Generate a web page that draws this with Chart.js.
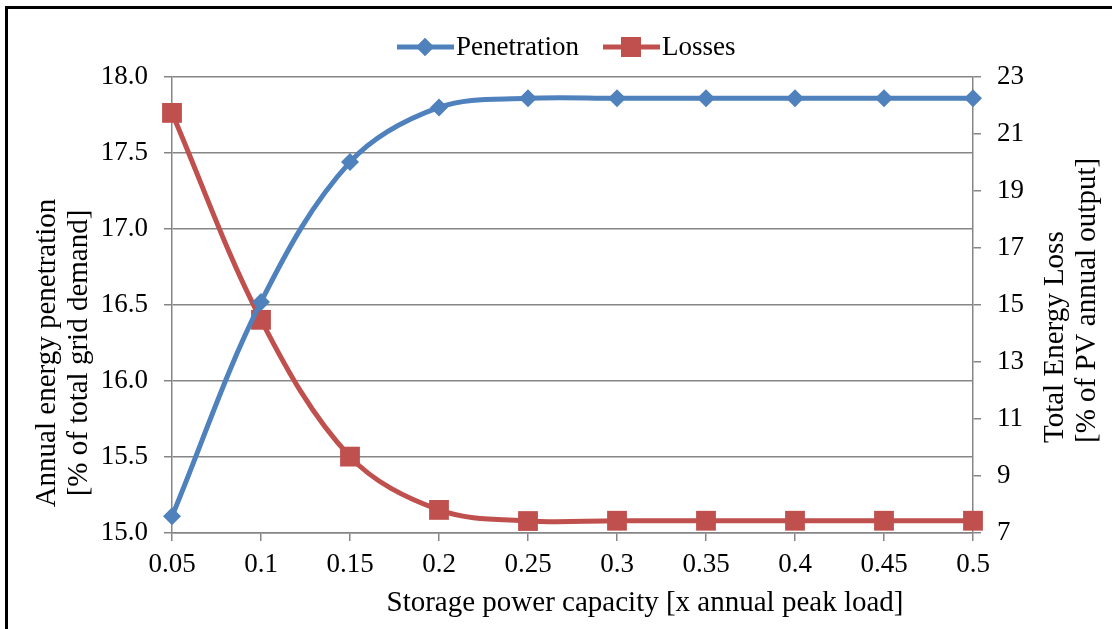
<!DOCTYPE html>
<html>
<head>
<meta charset="utf-8">
<script src="https://cdn.jsdelivr.net/npm/chart.js@4.4.1/dist/chart.umd.min.js"></script>
<style>
    html, body { margin: 0; padding: 0; background: #fff; overflow: hidden; }
    .wrap { position: relative; width: 1112px; height: 629px; }
    .frame {
        position: absolute; left: 5px; top: 6px; width: 1140px; height: 660px;
        border: 3px solid #000; box-sizing: border-box; pointer-events: none;
    }
    canvas { position: absolute; left: 0; top: 0; }
</style>
</head>
<body>
<div class="wrap">
    <canvas id="chart" width="1112" height="629"></canvas>
    <div class="frame"></div>
</div>
<script>
const xLabels = ['0.05', '0.1', '0.15', '0.2', '0.25', '0.3', '0.35', '0.4', '0.45', '0.5'];
const penetration = [15.11, 16.52, 17.44, 17.80, 17.86, 17.86, 17.86, 17.86, 17.86, 17.86];
const losses = [21.74, 14.48, 9.68, 7.81, 7.42, 7.43, 7.43, 7.43, 7.43, 7.43];

const blue = '#4F81BD';
const red = '#C0504D';
const gridGray = '#868686';
const font = '"Liberation Serif", "Times New Roman", serif';

// plot area edges in the reference
const area = { left: 172, right: 973, top: 77, bottom: 533 };

// legend and axis titles drawn by hand
const labelsPlugin = {
    id: 'labels',
    afterDraw(chart) {
        const ctx = chart.ctx;
        ctx.save();
        ctx.fillStyle = '#000';

        // legend
        ctx.font = '27px ' + font;
        ctx.textBaseline = 'middle';
        const ly = 47;
        const items = [
            { x: 397, color: blue, style: 'rectRot', r: 9, text: 'Penetration' },
            { x: 603, color: red, style: 'rect', r: 14, text: 'Losses' }
        ];
        items.forEach(it => {
            ctx.strokeStyle = it.color;
            ctx.lineWidth = 5;
            ctx.beginPath();
            ctx.moveTo(it.x, ly);
            ctx.lineTo(it.x + 57, ly);
            ctx.stroke();
            ctx.fillStyle = it.color;
            Chart.helpers.drawPoint(ctx, { pointStyle: it.style, radius: it.r, borderWidth: 0 }, it.x + 28, ly);
            ctx.fill();
            ctx.fillStyle = '#000';
            ctx.textAlign = 'left';
            ctx.fillText(it.text, it.x + 59, ly + 1);
        });

        // x title
        ctx.font = '29px ' + font;
        ctx.textAlign = 'center';
        ctx.textBaseline = 'alphabetic';
        ctx.fillText('Storage power capacity [x annual peak load]', 645, 611);

        // left title
        ctx.save();
        ctx.translate(0, 353);
        ctx.rotate(-Math.PI / 2);
        ctx.textAlign = 'center';
        ctx.fillText('Annual energy penetration', 0, 55);
        ctx.fillText('[% of total grid demand]', 0, 87);
        ctx.restore();

        // right title
        ctx.save();
        ctx.translate(0, 443);
        ctx.rotate(-Math.PI / 2);
        ctx.textAlign = 'left';
        ctx.fillText('Total Energy Loss', 0, 1063);
        ctx.fillText('[% of PV annual output]', 0, 1095);
        ctx.restore();

        ctx.restore();
    }
};

const ctx = document.getElementById('chart').getContext('2d');
window.lossChart = new Chart(ctx, {
    type: 'line',
    data: {
        labels: xLabels,
        datasets: [{
            label: 'Penetration',
            data: penetration,
            yAxisID: 'y',
            borderColor: blue,
            backgroundColor: blue,
            borderWidth: 5,
            pointStyle: 'rectRot',
            pointRadius: 9,
            pointBorderWidth: 0,
            tension: 0.35
        }, {
            label: 'Losses',
            data: losses,
            yAxisID: 'y1',
            borderColor: red,
            backgroundColor: red,
            borderWidth: 5,
            pointStyle: 'rect',
            pointRadius: 14,
            pointBorderWidth: 0,
            tension: 0.35
        }]
    },
    options: {
        responsive: false,
        animation: false,
        layout: { padding: { left: 0, right: 0, top: area.top, bottom: 0 } },
        plugins: {
            legend: { display: false },
            tooltip: { enabled: false }
        },
        scales: {
            x: {
                type: 'category',
                offset: false,
                afterFit: s => { s.height = 629 - area.bottom; },
                grid: { drawOnChartArea: false, color: gridGray, lineWidth: 1.5, tickLength: 8 },
                border: { color: gridGray, width: 1.5 },
                ticks: { color: '#000', font: { family: font, size: 27 }, padding: 8, maxRotation: 0, autoSkip: false }
            },
            y: {
                position: 'left',
                min: 15,
                max: 18,
                afterFit: s => { s.width = area.left; },
                grid: { color: gridGray, lineWidth: 1.5, tickLength: 8 },
                border: { color: gridGray, width: 1.5 },
                ticks: {
                    stepSize: 0.5,
                    color: '#000',
                    font: { family: font, size: 27 },
                    padding: 16,
                    callback: v => v.toFixed(1)
                }
            },
            y1: {
                position: 'right',
                min: 7,
                max: 23,
                afterFit: s => { s.width = 1112 - area.right; },
                grid: { drawOnChartArea: false, color: gridGray, lineWidth: 1.5, tickLength: 8 },
                border: { color: gridGray, width: 1.5 },
                ticks: {
                    stepSize: 2,
                    color: '#000',
                    font: { family: font, size: 27 },
                    padding: 16
                }
            }
        }
    },
    plugins: [labelsPlugin]
});
</script>
</body>
</html>
